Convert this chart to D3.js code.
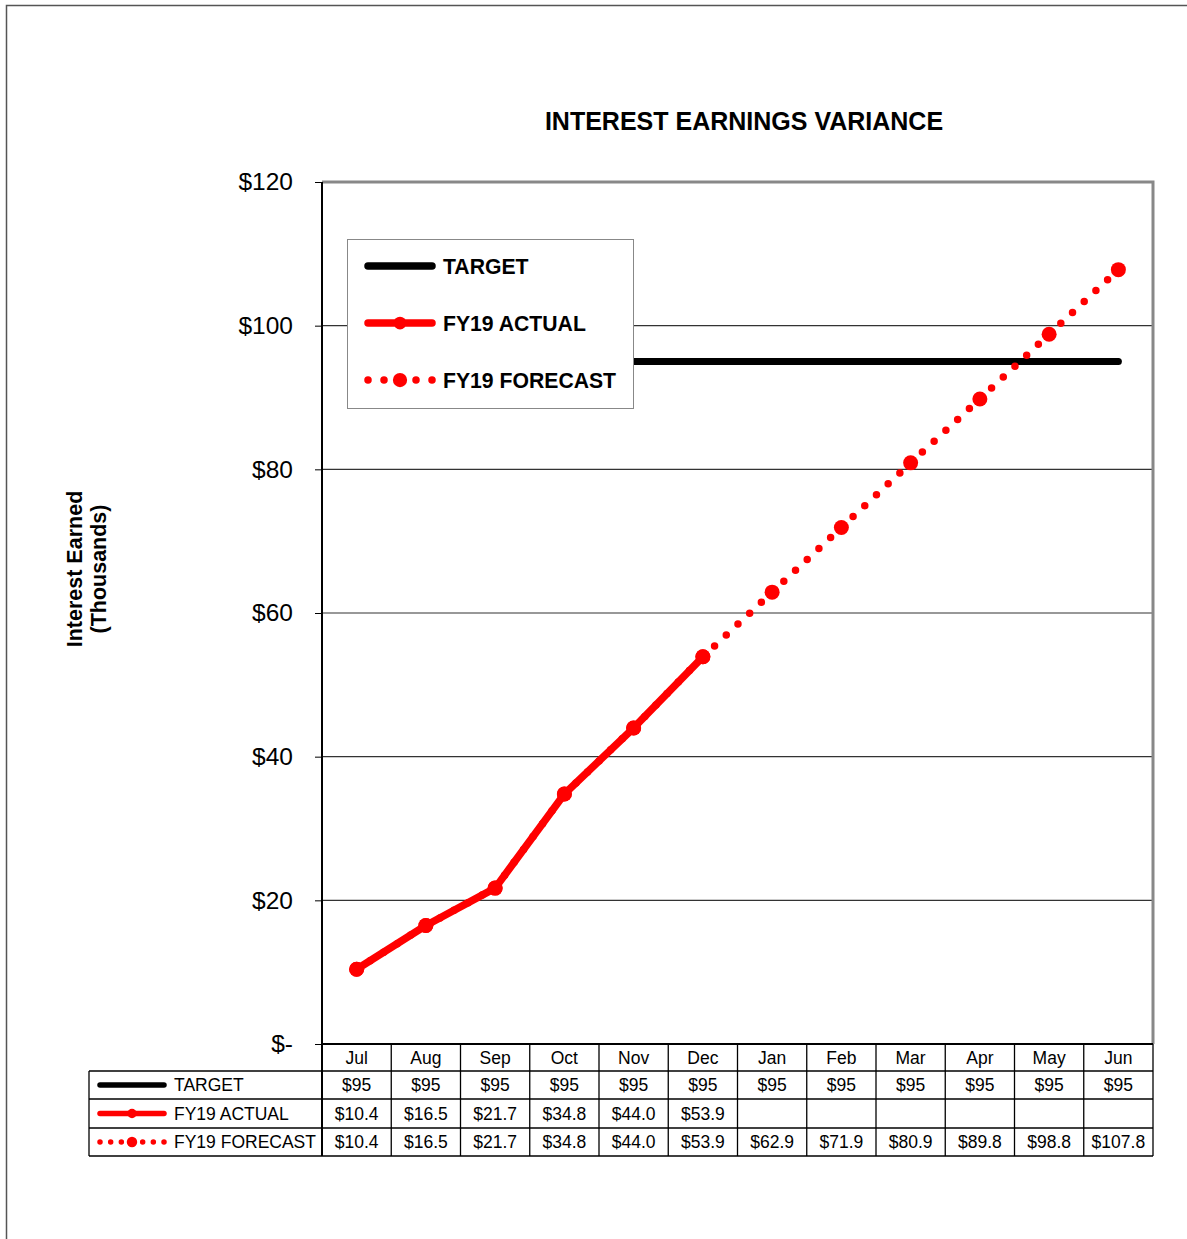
<!DOCTYPE html>
<html>
<head>
<meta charset="utf-8">
<script src="https://cdn.jsdelivr.net/npm/d3@7"></script>
<style>
  body { margin: 0; background: #fff; }
  svg { display: block; font-family: "Liberation Sans", Arial, sans-serif; }
</style>
</head>
<body>
<svg id="chart" width="1187" height="1239"></svg>
<script>
// data
const months = ["Jul", "Aug", "Sep", "Oct", "Nov", "Dec", "Jan", "Feb", "Mar", "Apr", "May", "Jun"];
const target = [95, 95, 95, 95, 95, 95, 95, 95, 95, 95, 95, 95];
const actual = [10.4, 16.5, 21.7, 34.8, 44.0, 53.9];
const forecast = [10.4, 16.5, 21.7, 34.8, 44.0, 53.9, 62.9, 71.9, 80.9, 89.8, 98.8, 107.8];
const yTicks = [0, 20, 40, 60, 80, 100, 120];
const seriesNames = ["TARGET", "FY19 ACTUAL", "FY19 FORECAST"];

const svg = d3.select("#chart");
const red = "#ff0000";

// page frame
svg.append("path")
  .attr("d", "M1187,5.5 H6.5 V1239")
  .attr("fill", "none").attr("stroke", "#555").attr("stroke-width", 1.5);

const pLeft = 322, pRight = 1153, pTop = 182, pBottom = 1044;

const x = d3.scaleBand().domain(months).range([pLeft, pRight]);
const cx = m => x(m) + x.bandwidth() / 2;
const y = d3.scaleLinear().domain([0, 120]).range([pBottom, pTop]);

// title
svg.append("text")
  .attr("x", 744).attr("y", 130)
  .attr("text-anchor", "middle")
  .attr("font-size", 25).attr("font-weight", "bold")
  .text("INTEREST EARNINGS VARIANCE");

// y title
const yt = svg.append("text")
  .attr("transform", "translate(87,569) rotate(-90)")
  .attr("text-anchor", "middle")
  .attr("font-size", 21.5).attr("font-weight", "bold");
yt.append("tspan").attr("x", 0).attr("y", -5).text("Interest Earned");
yt.append("tspan").attr("x", 0).attr("y", 19).text("(Thousands)");

// grid
svg.append("g")
  .selectAll("line")
  .data(yTicks.filter(d => d > 0 && d < 120))
  .join("line")
  .attr("x1", pLeft).attr("x2", pRight)
  .attr("y1", d => y(d)).attr("y2", d => y(d))
  .attr("stroke", "#333").attr("stroke-width", 1.2);

// plot frame (top / right grey)
svg.append("path")
  .attr("d", `M${pLeft},${y(120)} H${pRight} V${pBottom}`)
  .attr("fill", "none").attr("stroke", "#888").attr("stroke-width", 3);

// y axis
const yAxis = svg.append("g")
  .attr("transform", `translate(${pLeft},0)`)
  .call(d3.axisLeft(y).tickValues(yTicks).tickSize(7).tickPadding(22)
    .tickFormat(d => d === 0 ? "$-" : "$" + d));
yAxis.select(".domain").remove();
yAxis.selectAll("line").attr("stroke", "#000");
yAxis.selectAll("text").attr("font-size", 24.5).attr("font-family", "Liberation Sans, Arial, sans-serif");

svg.append("line")
  .attr("x1", pLeft).attr("x2", pLeft).attr("y1", pTop).attr("y2", pBottom)
  .attr("stroke", "#000").attr("stroke-width", 2);
svg.append("line")
  .attr("x1", pLeft).attr("x2", pRight).attr("y1", pBottom).attr("y2", pBottom)
  .attr("stroke", "#000").attr("stroke-width", 2);

// target
svg.append("path")
  .datum(target)
  .attr("fill", "none").attr("stroke", "#000").attr("stroke-width", 7)
  .attr("stroke-linecap", "round")
  .attr("d", d3.line().x((d, i) => cx(months[i])).y(d => y(d)));

// forecast, dotted, pattern restarts each segment
const fpts = forecast.map((v, i) => [cx(months[i]), y(v)]);
svg.append("g")
  .selectAll("path")
  .data(d3.pairs(fpts))
  .join("path")
  .attr("fill", "none").attr("stroke", red).attr("stroke-width", 7.5)
  .attr("stroke-linecap", "round").attr("stroke-dasharray", "0,16")
  .attr("d", d => d3.line()(d));
svg.append("g")
  .selectAll("circle")
  .data(fpts)
  .join("circle")
  .attr("cx", d => d[0]).attr("cy", d => d[1]).attr("r", 7.5).attr("fill", red);

// actual
svg.append("path")
  .datum(actual)
  .attr("fill", "none").attr("stroke", red).attr("stroke-width", 7.5)
  .attr("stroke-linejoin", "round")
  .attr("d", d3.line().x((d, i) => cx(months[i])).y(d => y(d)));
svg.append("g")
  .selectAll("circle")
  .data(actual)
  .join("circle")
  .attr("cx", (d, i) => cx(months[i])).attr("cy", d => y(d)).attr("r", 7.5).attr("fill", red);

// legend symbols
function symbol(g, k, x0, x1, yy, w, nDots) {
  if (k === 0) {
    g.append("line").attr("x1", x0).attr("x2", x1).attr("y1", yy).attr("y2", yy)
      .attr("stroke", "#000").attr("stroke-width", w).attr("stroke-linecap", "round");
  } else if (k === 1) {
    g.append("line").attr("x1", x0).attr("x2", x1).attr("y1", yy).attr("y2", yy)
      .attr("stroke", red).attr("stroke-width", w).attr("stroke-linecap", "round");
    g.append("circle").attr("cx", (x0 + x1) / 2).attr("cy", yy).attr("r", w * 0.85).attr("fill", red);
  } else {
    const step = (x1 - x0) / (nDots - 1);
    const mid = (nDots - 1) / 2;
    for (let j = 0; j < nDots; j++) {
      g.append("circle").attr("cx", x0 + j * step).attr("cy", yy)
        .attr("r", j === mid ? w * 0.95 : w / 2).attr("fill", red);
    }
  }
}

// legend box
const lg = svg.append("g");
lg.append("rect")
  .attr("x", 347.5).attr("y", 239.5).attr("width", 286).attr("height", 169)
  .attr("fill", "#fff").attr("stroke", "#888").attr("stroke-width", 1);
seriesNames.forEach((name, k) => {
  const yy = 266 + k * 57;
  symbol(lg, k, 368, 432, yy, 7.5, 5);
  lg.append("text").attr("x", 443).attr("y", yy + 8)
    .attr("font-size", 21.2).attr("font-weight", "bold").text(name);
});

// data table
const rowTop = [1044, 1071, 1099, 1128, 1156];
const tbl = svg.append("g").attr("stroke", "#000").attr("stroke-width", 1.3);
rowTop.slice(1).forEach(r => {
  tbl.append("line").attr("x1", 89).attr("x2", pRight).attr("y1", r).attr("y2", r);
});
tbl.append("line").attr("x1", 89).attr("x2", 89).attr("y1", rowTop[1]).attr("y2", rowTop[4]);
tbl.append("line").attr("x1", pLeft).attr("x2", pLeft).attr("y1", pBottom).attr("y2", rowTop[4])
  .attr("stroke-width", 2);
tbl.selectAll(".vcol")
  .data(months)
  .join("line")
  .attr("x1", d => x(d) + x.bandwidth()).attr("x2", d => x(d) + x.bandwidth())
  .attr("y1", pBottom).attr("y2", rowTop[4]);

const rowMid = i => (rowTop[i] + rowTop[i + 1]) / 2 + 6;
svg.append("g").selectAll("text")
  .data(months)
  .join("text")
  .attr("x", d => cx(d)).attr("y", rowMid(0))
  .attr("text-anchor", "middle").attr("font-size", 17.5).text(d => d);

const rows = [target, actual, forecast];
rows.forEach((vals, k) => {
  const yy = rowMid(k + 1);
  svg.append("g").selectAll("text")
    .data(vals)
    .join("text")
    .attr("x", (d, i) => cx(months[i])).attr("y", yy)
    .attr("text-anchor", "middle").attr("font-size", 17.5)
    .text(d => k === 0 ? "$" + d : "$" + d.toFixed(1));
  const tg = svg.append("g");
  symbol(tg, k, 100, 164, yy - 6, 5.5, 7);
  tg.append("text").attr("x", 174).attr("y", yy).attr("font-size", 17.5).text(seriesNames[k]);
});
</script>
</body>
</html>
